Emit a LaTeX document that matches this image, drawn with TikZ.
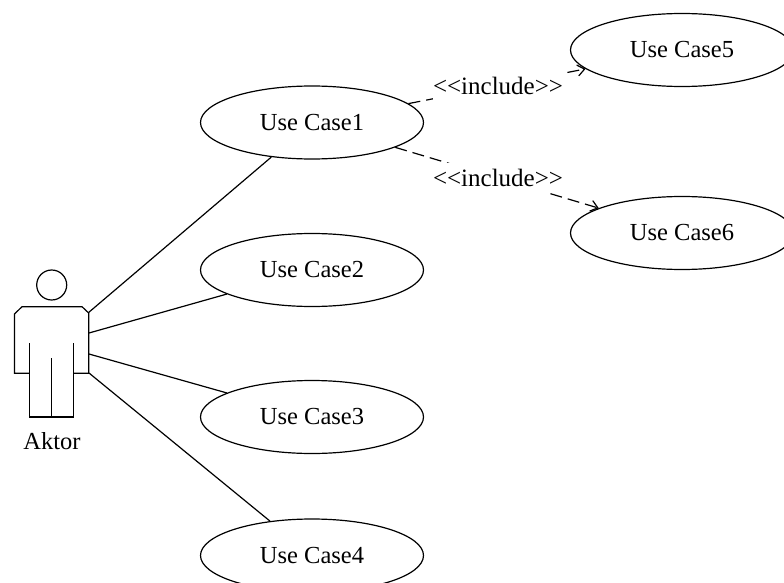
\documentclass[tikz,border=0pt]{standalone}
\usepackage{fontspec}
\setmainfont{Liberation Serif}
\usetikzlibrary{arrows.meta,shapes.geometric}
\newcommand{\dgfont}{\fontsize{24.5}{28}\selectfont}
\newcommand{\lbfont}{\fontsize{25}{28}\selectfont}
\tikzset{
  uc/.style={ellipse,draw=black,line width=1.2pt,minimum width=223pt,minimum height=73pt,inner sep=0pt,font=\dgfont,text=black},
  assoc/.style={draw=black,line width=1.2pt},
  incl/.style={draw=black,line width=1.2pt,dash pattern=on 12pt off 6pt,-{Straight Barb[length=7pt,width=11pt,line width=1.2pt]}},
  lab/.style={fill=white,inner sep=0pt,minimum width=128pt,minimum height=30pt,font=\lbfont,text=black},
  body/.style={draw=black,line width=1.2pt,line join=miter}
}
\begin{document}
\begin{tikzpicture}[x=1pt,y=-1pt]
\useasboundingbox (0,0) rectangle (784,583);
\clip (0,0) rectangle (784,583);
\node[uc] (u1) at (312,122.5) {Use Case1};
\node[uc] (u2) at (312,270) {Use Case2};
\node[uc] (u3) at (312,417) {Use Case3};
\node[uc] (u4) at (312,555.5) {Use Case4};
\node[uc] (u5) at (682,50) {Use Case5};
\node[uc] (u6) at (682,233) {Use Case6};
% actor
\node[circle,draw=black,line width=1.2pt,minimum size=30pt,inner sep=0pt] (head) at (51.7,285) {};
\draw[body] (29.3,373.3) -- (14.5,373.3) -- (14.5,314) -- (22,306.7) -- (82,306.7) -- (88.7,313) -- (88.7,373.3) -- (73.7,373.3);
\draw[body] (29.3,343) -- (29.3,417) -- (73.7,417) -- (73.7,343);
\draw[body] (51.7,358) -- (51.7,417);
\node[inner sep=0pt,font=\dgfont] (aktor) at (52,441) {Aktor};
\coordinate (a1) at (88,313);
\coordinate (a2) at (89,333);
\coordinate (a3) at (89,354);
\coordinate (a4) at (89,373);
\draw[assoc] (a1) -- (u1);
\draw[assoc] (a2) -- (u2);
\draw[assoc] (a3) -- (u3);
\draw[assoc] (a4) -- (u4);
\draw[incl] (u1) -- (u5);
\draw[incl] (u1) -- (u6);
\node[lab] (l1) at (498,86) {{<}{<}include{>}{>}};
\node[lab] (l2) at (498,178) {{<}{<}include{>}{>}};
\end{tikzpicture}
\end{document}
